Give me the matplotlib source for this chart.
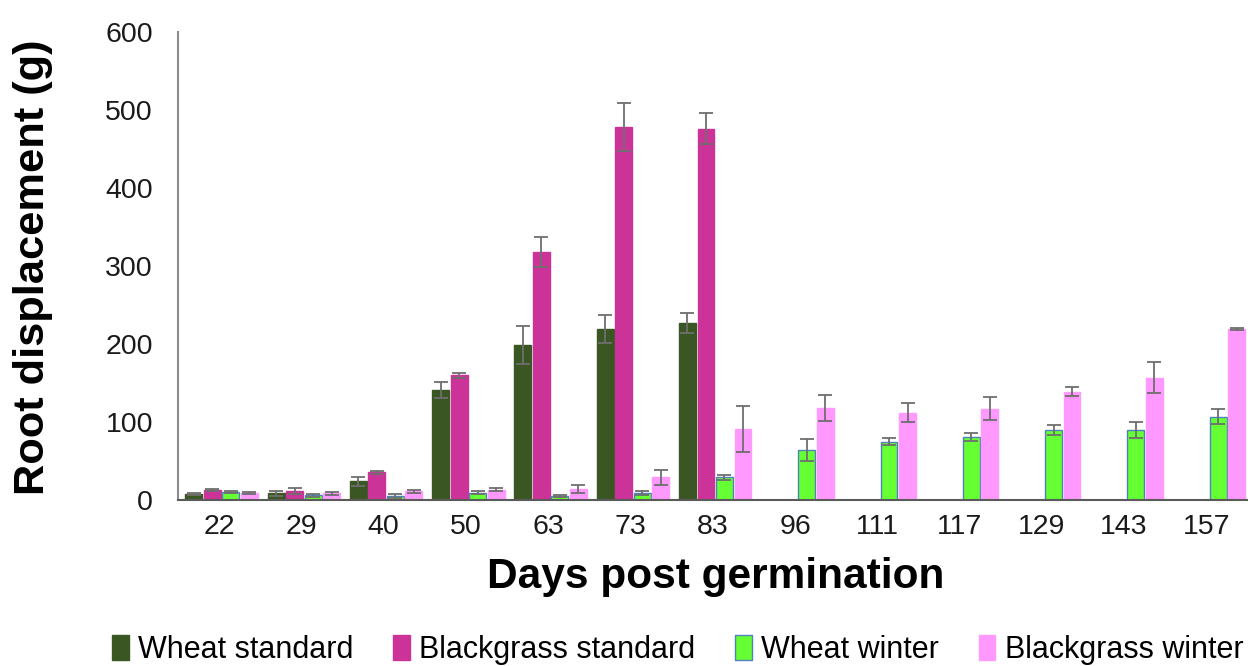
import numpy as np
import matplotlib
matplotlib.use('Agg')
import matplotlib.pyplot as plt

plt.rcParams['font.family'] = ['Liberation Sans', 'DejaVu Sans']

# days post germination (categories)
days = ['22', '29', '40', '50', '63', '73', '83', '96', '111', '117', '129', '143', '157']

nan = np.nan
wheat_std = [8, 8.5, 24, 141, 199, 219, 227, nan, nan, nan, nan, nan, nan]
wheat_std_err = [1.5, 3.5, 5.5, 10, 24, 18, 13, nan, nan, nan, nan, nan, nan]
bg_std = [12.5, 11.5, 35.5, 160, 318, 478, 476, nan, nan, nan, nan, nan, nan]
bg_std_err = [1.5, 4, 2, 3, 19, 31, 20, nan, nan, nan, nan, nan, nan]
wheat_win = [10, 6, 5, 9.5, 5, 9, 29, 64, 75, 81, 90, 90, 107]
wheat_win_err = [1.5, 2, 2.5, 1.5, 1, 3, 3, 14.5, 5, 5, 6, 10, 10]
bg_win = [9, 8.5, 11, 13, 14, 29, 91, 118, 112, 117, 139, 157, 219]
bg_win_err = [1.5, 1.5, 1.5, 2, 5, 10, 29, 17, 12, 15, 6, 20, 1.5]

labels = ['Wheat standard', 'Blackgrass standard', 'Wheat winter', 'Blackgrass winter']
colors = ['#3a5723', '#cc3399', '#66ff33', '#ff99ff']
edges = ['#3a5723', '#cc3399', '#4f81bd', '#ff99ff']

fig = plt.figure(figsize=(12.48, 6.66), dpi=100)
ax = fig.add_axes([0.1426, 0.2492, 0.857, 0.7027])

x = np.arange(len(days))
series = [(wheat_std, wheat_std_err), (bg_std, bg_std_err),
          (wheat_win, wheat_win_err), (bg_win, bg_win_err)]
pitch = 0.225
for k, (vals, errs) in enumerate(series):
    pos = x + (k - 1.5) * pitch + 0.03
    ax.bar(pos, vals, width=0.205, color=colors[k], edgecolor=edges[k],
           linewidth=1.0, label=labels[k], zorder=2)
    ax.errorbar(pos, vals, yerr=errs, fmt='none', ecolor='#6e6e6e',
                elinewidth=1.3, capsize=5, capthick=1.3, zorder=3)

ax.set_xlim(-0.5, len(days) - 0.5)
ax.set_ylim(0, 600)
ax.set_yticks(np.arange(0, 601, 100))
ax.set_xticks(x)
ax.set_xticklabels(days)
ax.tick_params(axis='both', length=0, labelsize=20.5, colors='#1a1a1a')
ax.tick_params(axis='y', pad=18)
ax.tick_params(axis='x', pad=10)

for s in ['top', 'right']:
    ax.spines[s].set_visible(False)
ax.spines['left'].set_color('#8c8c8c')
ax.spines['left'].set_linewidth(1.5)
ax.spines['bottom'].set_color('#5a5a5a')
ax.spines['bottom'].set_linewidth(1.5)

ax.set_xlabel('Days post germination', fontsize=30.5, fontweight='bold')
ax.set_ylabel('Root displacement (g)', fontsize=31.2, fontweight='bold')
ax.xaxis.set_label_coords(0.503, -0.122)
ax.yaxis.set_label_coords(-0.117, 0.497)

fig.legend(loc='center', bbox_to_anchor=(0.543, 0.024), ncol=4, frameon=False,
           fontsize=22, handlelength=0.55, handleheight=0.9, handletextpad=0.3,
           columnspacing=1.3, borderaxespad=0)

fig.savefig('out.png', dpi=100)
